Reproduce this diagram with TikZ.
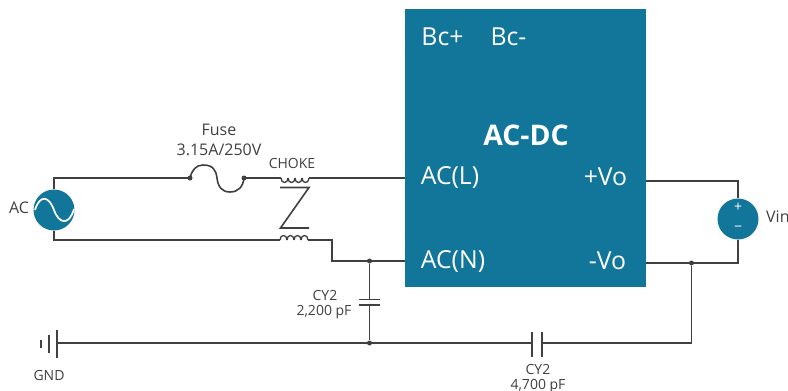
\documentclass[tikz,border=0pt]{standalone}
\usepackage{fontspec}
\setmainfont{Open Sans}
\definecolor{boxblue}{HTML}{12769A}
\definecolor{wiregray}{HTML}{404040}
\tikzset{
    wire/.style = {
        draw=wiregray, line width=1.6pt, line join=miter
    },
    junction/.style = {
        circle, fill=wiregray, minimum size=5pt, inner sep=0
    },
    source/.style = {
        circle, fill=boxblue, minimum size=41pt, inner sep=0
    },
    pinlabel/.style = {
        text=white, inner sep=0, font=\fontsize{24.8}{28}\selectfont
    },
    partlabel/.style = {
        text=wiregray, inner sep=0, align=center, font=\fontsize{#1}{#1}\selectfont
    },
    partlabel/.default = 14
}

\begin{document}
\begin{tikzpicture}[x=1pt, y=-1pt]
    \useasboundingbox (0,0) rectangle (788,391);

    % converter block and its pins
    \node[fill=boxblue, minimum width=241pt, minimum height=278pt, inner sep=0] (dcbox) at (525.5,148) {};
    \node[pinlabel] (bcplus) at (442.5,37) {Bc+};
    \node[pinlabel] (bcminus) at (508.5,37) {Bc-};
    \node[pinlabel, font=\fontsize{28.4}{32}\bfseries\selectfont] (dclabel) at (526,135) {AC-DC};
    \node[pinlabel] (pinl) at (450,177) {AC(L)};
    \node[pinlabel] (pinn) at (453,261) {AC(N)};
    \node[pinlabel] (pinvp) at (605.5,177) {+Vo};
    \node[pinlabel] (pinvm) at (607.5,261) {-Vo};

    % sources
    \node[source] (acsrc) at (54,210) {};
    \node[source] (vinsrc) at (738,219) {};
    \draw[white, line width=1.7pt] (35,210) .. controls (40,194) and (49,196) .. (54,210)
        .. controls (59,224) and (69,226) .. (74,209);
    \node[text=white, inner sep=0, font=\fontsize{14}{14}\selectfont] (vplus) at (738,207) {+};
    \node[text=white, inner sep=0, font=\fontsize{14}{14}\selectfont] (vminus) at (738,229) {−};

    % named points of the wiring
    \coordinate (fusea) at (190,178);
    \coordinate (fuseb) at (244,178);
    \coordinate (lup) at (281,178);
    \coordinate (lupend) at (309,178);
    \coordinate (llow) at (280,240);
    \coordinate (llowend) at (308,240);
    \coordinate (portl) at (405,178);
    \coordinate (portn) at (405,261);
    \coordinate (portvp) at (646,181);
    \coordinate (portvm) at (646,263);
    \coordinate (capatop) at (369.5,299.5);
    \coordinate (capabot) at (369.5,305);
    \coordinate (capbleft) at (532,343);
    \coordinate (capbright) at (542,343);
    \coordinate (gndplate) at (57,343);

    \node[junction] (jfusea) at (fusea) {};
    \node[junction] (jfuseb) at (fuseb) {};
    \node[junction] (jcapa) at (369.5,261) {};
    \node[junction] (jgnd) at (369.5,343) {};
    \node[junction] (jvo) at (691.5,263) {};

    % mains side
    \draw[wire] (acsrc.north) |- (fusea);
    \draw[wire] (fusea) .. controls (192,170) and (196,165) .. (203,165)
        .. controls (213,165) and (216,170) .. (217,178)
        .. controls (218,187) and (222,192) .. (230,192)
        .. controls (238,192) and (243,187) .. (fuseb);
    \draw[wire] (fuseb) -- (lup);
    \foreach \x in {281,288,295,302} {
        \draw[draw=wiregray, line width=1.3pt] (\x,178) .. controls (\x,184) and (\x+7,184) .. (\x+7,178);
    }
    \draw[wire] (lupend) -- (portl);
    \draw[wire] (280,187.5) -- (309,187.5) -- (280.5,228) -- (309,228);
    \draw[wire] (acsrc.south) |- (llow);
    \foreach \x in {280,287,294,301} {
        \draw[draw=wiregray, line width=1.3pt] (\x,240) .. controls (\x,234) and (\x+7,234) .. (\x+7,240);
    }
    \draw[wire] (llowend) -- (332,240) -- (332,261) -- (portn);

    % output side
    \draw[wire] (portvp) -| (vinsrc.north);
    \draw[wire] (portvm) -| (vinsrc.south);

    % Y capacitors and ground
    \draw[wire] (jcapa) -- (capatop);
    \draw[wire] (359,299.5) -- (380,299.5);
    \draw[wire] (359,305) -- (380,305);
    \draw[wire] (capabot) -- (jgnd);
    \draw[wire] (gndplate) -- (capbleft);
    \draw[wire] (532,332) -- (532,357);
    \draw[wire] (542,332) -- (542,357);
    \draw[wire] (capbright) -| (jvo);
    \draw[wire] (57,330) -- (57,358);
    \draw[wire] (49,335) -- (49,353);
    \draw[wire] (41,340) -- (41,348);

    % part labels
    \node[partlabel=16] (aclabel) at (19,208) {AC};
    \node[partlabel=16] (fuselabel) at (219,130) {Fuse};
    \node[partlabel=16] (ratelabel) at (219,150) {3.15A/250V};
    \node[partlabel] (chokelabel) at (292,163) {CHOKE};
    \node[partlabel] (cyalabel) at (325,295) {CY2};
    \node[partlabel] (cyavalue) at (324,312) {2,200 pF};
    \node[partlabel] (gndlabel) at (49,375) {GND};
    \node[partlabel] (cyblabel) at (538,369) {CY2};
    \node[partlabel] (cybvalue) at (538,386) {4,700 pF};
    \node[partlabel=16, anchor=west] (vinlabel) at (766,217) {Vin};
\end{tikzpicture}
\end{document}
